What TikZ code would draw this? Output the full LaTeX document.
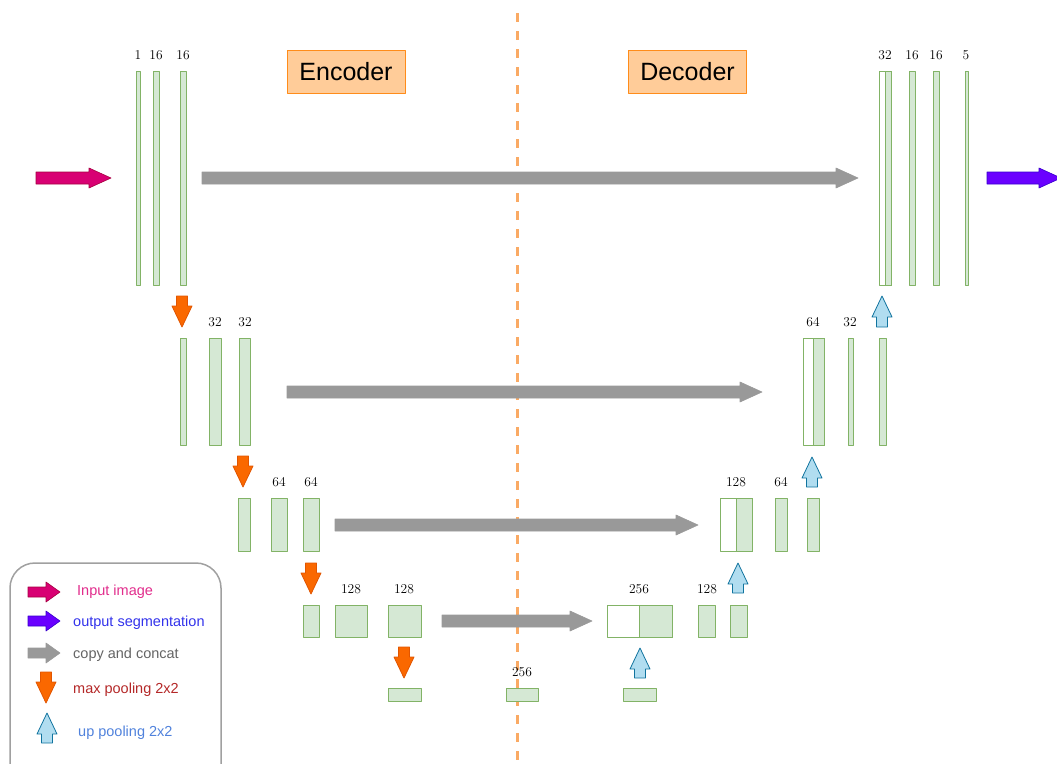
\documentclass[tikz,border=0pt]{standalone}
\usepackage{fontspec}
\setsansfont{Liberation Sans}
\definecolor{barfill}{RGB}{213,232,212}
\definecolor{barline}{RGB}{130,179,102}
\definecolor{stagefill}{RGB}{255,204,153}
\definecolor{stageline}{RGB}{255,140,26}
\definecolor{midorange}{RGB}{250,170,100}
\definecolor{inmag}{RGB}{216,0,115}
\definecolor{inmagline}{RGB}{165,0,64}
\definecolor{outpur}{RGB}{106,0,255}
\definecolor{outpurline}{RGB}{55,0,204}
\definecolor{copygray}{RGB}{153,153,153}
\definecolor{poolorange}{RGB}{250,104,0}
\definecolor{poolorangeline}{RGB}{225,85,0}
\definecolor{upblue}{RGB}{177,221,240}
\definecolor{upblueline}{RGB}{16,115,158}
% block arrows: x1, x2, y, half shaft, head length, style
\newcommand{\harrow}[6]{\draw[#6] (#1,#3-#4)--(#2-#5,#3-#4)--(#2-#5,#3-10)--(#2,#3)--(#2-#5,#3+10)--(#2-#5,#3+#4)--(#1,#3+#4)--cycle;}
% x, tail y, tip y
\newcommand{\vdown}[3]{\draw[pooldown] (#1-5.5,#2)--(#1+5.5,#2)--(#1+5.5,#3-21)--(#1+10,#3-21)--(#1,#3)--(#1-10,#3-21)--(#1-5.5,#3-21)--cycle;}
\newcommand{\vup}[3]{\draw[poolup] (#1-5.5,#2)--(#1+5.5,#2)--(#1+5.5,#3+21)--(#1+10,#3+21)--(#1,#3)--(#1-10,#3+21)--(#1-5.5,#3+21)--cycle;}
\begin{document}
\begin{tikzpicture}[x=1pt,y=-1pt,line join=round,
  bar/.style={fill=barfill,draw=barline,line width=0.9pt},
  catbar/.style={fill=white,draw=barline,line width=0.9pt},
  num/.style={inner sep=0pt,font=\fontsize{13.5}{16}\selectfont},
  stage/.style={fill=stagefill,draw=stageline,line width=1pt,minimum width=118,minimum height=43,font=\sffamily\fontsize{25}{30}\selectfont},
  legtext/.style={anchor=base west,inner sep=0pt,font=\sffamily\fontsize{14.5}{17}\selectfont},
  inarr/.style={fill=inmag,draw=inmagline,line width=0.6pt},
  outarr/.style={fill=outpur,draw=outpurline,line width=0.6pt},
  copyarr/.style={fill=copygray,draw=copygray,line width=0.6pt},
  pooldown/.style={fill=poolorange,draw=poolorangeline,line width=0.8pt},
  poolup/.style={fill=upblue,draw=upblueline,line width=0.8pt}]
    \useasboundingbox (0,0) rectangle (1057,763);
    \clip (0,0) rectangle (1057,763);
    % encoder / decoder split
    \draw[midorange,line width=3pt,dash pattern=on 9pt off 9pt] (517,13)--(517,770);
    \node[stage] (enc) at (346,71.5) {Encoder};
    \node[stage] (dec) at (687.5,71.5) {Decoder};
    % feature maps
    \foreach \xa/\xb/\ya/\yb in {136/140/71/285,153/159/71/285,180/186/71/285,909/915/71/285,933/939/71/285,965/968/71/285,
      180/186/338/445,209/221/338/445,239/250/338/445,848/853/338/445,879/886/338/445,
      238/250/498/551,271/287/498/551,303/319/498/551,775/787/498/551,807/819/498/551,
      303/319/605/637,335/367/605/637,388/421/605/637,698/715/605/637,730/747/605/637,
      388/421/688/701,506/538/688/701,623/656/688/701}
    \draw[bar] (\xa,\ya) rectangle (\xb,\yb);
    % concatenated maps
    \foreach \xa/\xm/\xb/\ya/\yb in {879/885/891/71/285,803/813/824/338/445,720/736/752/498/551,607/639/672/605/637}
    {
      \draw[catbar] (\xa,\ya) rectangle (\xb,\yb);
      \draw[bar] (\xm,\ya) rectangle (\xb,\yb);
    }
    % channel numbers
    \foreach \x/\y/\t [count=\i] in {138/55/1,156/55/16,183/55/16,885/55/32,912/55/16,936/55/16,966/55/5,
      215/322/32,245/322/32,813/322/64,850/322/32,
      279/482/64,311/482/64,736/482/128,781/482/64,
      351/589/128,404/589/128,639/589/256,707/589/128,
      522/672/256}
    \node[num] (c\i) at (\x,\y) {\t};
    % arrows
    \harrow{36}{111}{178}{6}{22}{inarr}
    \harrow{987}{1061}{178}{6}{22}{outarr}
    \harrow{202}{858}{178}{6}{22}{copyarr}
    \harrow{287}{762}{392}{6}{22}{copyarr}
    \harrow{335}{698}{525}{6}{22}{copyarr}
    \harrow{442}{592}{621}{6}{22}{copyarr}
    \vdown{182}{296}{327}
    \vdown{243}{456}{487}
    \vdown{311}{563}{594}
    \vdown{404}{647}{678}
    \vup{882}{327}{296}
    \vup{812}{487}{457}
    \vup{738}{593}{563}
    \vup{640}{678}{648}
    % legend
    \draw[draw={rgb,255:red,160;green,160;blue,160},line width=1.5pt,rounded corners=25pt] (10,563) rectangle (221,790);
    \harrow{28}{60}{592}{5}{14}{inarr}
    \harrow{28}{60}{621}{5}{14}{outarr}
    \harrow{28}{60}{653}{5}{14}{copyarr}
    \vdown{46}{672}{703}
    \vup{47}{743}{713}
    \node[legtext,text={rgb,255:red,225;green,45;blue,140}] (lin) at (77,595) {Input image};
    \node[legtext,text={rgb,255:red,50;green,50;blue,235}] (lout) at (73,626) {output segmentation};
    \node[legtext,text={rgb,255:red,100;green,100;blue,100}] (lcopy) at (73,658) {copy and concat};
    \node[legtext,text={rgb,255:red,180;green,40;blue,40}] (lmax) at (73,693) {max pooling 2x2};
    \node[legtext,text={rgb,255:red,80;green,130;blue,220}] (lup) at (78,736) {up pooling 2x2};
\end{tikzpicture}
\end{document}
